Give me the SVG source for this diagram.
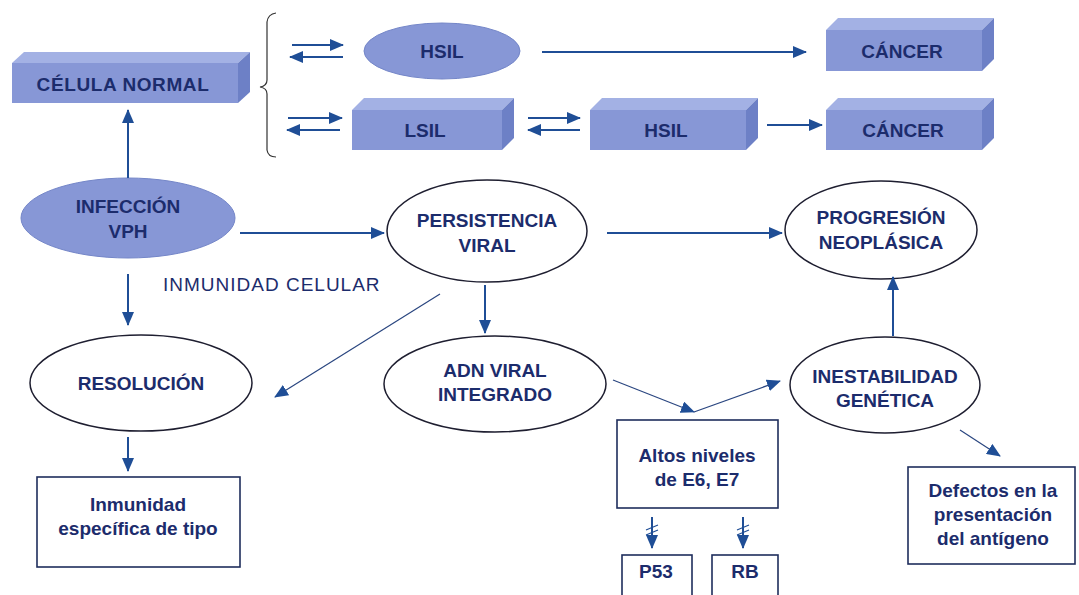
<svg xmlns="http://www.w3.org/2000/svg" width="1079" height="595" viewBox="0 0 1079 595">
<defs>
<style>
.t{font-family:"Liberation Sans",Arial,sans-serif;font-weight:bold;font-size:19px;fill:#1c2c6c;text-anchor:middle}
.front{fill:#8797d6}
.top{fill:#a3b1e4}
.side{fill:#6d80c6}
.ell{fill:#fff;stroke:#1e1e30;stroke-width:1.5}
.box{fill:#fff;stroke:#1f2d5c;stroke-width:1.6}
.ar{stroke:#1f4e96;stroke-width:2;fill:none}
.thin{stroke:#2a4680;stroke-width:1.2;fill:none}
</style>
<marker id="ah" markerUnits="userSpaceOnUse" markerWidth="14" markerHeight="12" refX="13" refY="6" orient="auto">
<path d="M0,0 L14,6 L0,12 Z" fill="#1f4e96"/>
</marker>
</defs>

<g id="celula-normal">
<polygon class="top" points="12,63 24,52 250,52 238,63"/>
<polygon class="side" points="238,63 250,52 250,92 238,103"/>
<rect class="front" x="12" y="63" width="226" height="40"/>
<text class="t" x="123" y="91" font-size="20" letter-spacing="0.6">CÉLULA NORMAL</text>
</g>

<g id="brace">
<path d="M276,13 Q268,14 267,22 L267,80 Q267,86 260,87 Q267,88 267,94 L267,150 Q268,157 276,157" fill="none" stroke="#333" stroke-width="1.2"/>
</g>

<g id="hsil-ellipse">
<ellipse cx="442" cy="51" rx="78" ry="28" fill="#8797d6" stroke="#7486c8" stroke-width="1"/>
<text class="t" x="442" y="58">HSIL</text>
</g>

<g id="cancer-top">
<polygon class="top" points="826,30 838,18 994,18 982,30"/>
<polygon class="side" points="982,30 994,18 994,59 982,71"/>
<rect class="front" x="826" y="30" width="156" height="41"/>
<text class="t" x="902" y="58">CÁNCER</text>
</g>

<g id="lsil">
<polygon class="top" points="352,110 364,98 514,98 502,110"/>
<polygon class="side" points="502,110 514,98 514,138 502,150"/>
<rect class="front" x="352" y="110" width="150" height="40"/>
<text class="t" x="425" y="137">LSIL</text>
</g>

<g id="hsil-box">
<polygon class="top" points="590,110 602,98 758,98 746,110"/>
<polygon class="side" points="746,110 758,98 758,138 746,150"/>
<rect class="front" x="590" y="110" width="156" height="40"/>
<text class="t" x="666" y="137">HSIL</text>
</g>

<g id="cancer-bottom">
<polygon class="top" points="826,110 838,98 994,98 982,110"/>
<polygon class="side" points="982,110 994,98 994,138 982,150"/>
<rect class="front" x="826" y="110" width="156" height="40"/>
<text class="t" x="903" y="137">CÁNCER</text>
</g>

<g id="infeccion-vph">
<ellipse cx="128" cy="218" rx="107" ry="40" fill="#8797d6" stroke="#7486c8" stroke-width="1"/>
<text class="t" x="128" y="213">INFECCIÓN</text>
<text class="t" x="128" y="238">VPH</text>
</g>

<g id="persistencia-viral">
<ellipse class="ell" cx="487" cy="231" rx="100" ry="51"/>
<text class="t" x="487" y="227">PERSISTENCIA</text>
<text class="t" x="487" y="252">VIRAL</text>
</g>

<g id="progresion-neoplasica">
<ellipse class="ell" cx="881" cy="230" rx="96" ry="49"/>
<text class="t" x="881" y="224">PROGRESIÓN</text>
<text class="t" x="881" y="249">NEOPLÁSICA</text>
</g>

<g id="inmunidad-celular">
<text x="163" y="291" font-family="Liberation Sans, Arial, sans-serif" font-size="19" letter-spacing="1" fill="#1c2c6c">INMUNIDAD CELULAR</text>
</g>

<g id="resolucion">
<ellipse class="ell" cx="141" cy="383" rx="111" ry="48"/>
<text class="t" x="141" y="390">RESOLUCIÓN</text>
</g>

<g id="adn-viral-integrado">
<ellipse class="ell" cx="495" cy="384" rx="111" ry="48"/>
<text class="t" x="495" y="377">ADN VIRAL</text>
<text class="t" x="495" y="401">INTEGRADO</text>
</g>

<g id="inestabilidad-genetica">
<ellipse class="ell" cx="885" cy="385" rx="95" ry="48"/>
<text class="t" x="885" y="383">INESTABILIDAD</text>
<text class="t" x="885" y="407">GENÉTICA</text>
</g>

<g id="inmunidad-especifica">
<rect class="box" x="37" y="477" width="203" height="90"/>
<text class="t" x="138" y="511">Inmunidad</text>
<text class="t" x="138" y="535">específica de tipo</text>
</g>

<g id="altos-niveles">
<rect class="box" x="617" y="420" width="161" height="88"/>
<text class="t" x="697" y="462">Altos niveles</text>
<text class="t" x="697" y="486">de E6, E7</text>
</g>

<g id="defectos">
<rect class="box" x="908" y="467" width="167" height="97"/>
<text class="t" x="993" y="497">Defectos en la</text>
<text class="t" x="993" y="521">presentación</text>
<text class="t" x="993" y="545">del antígeno</text>
</g>

<g id="p53">
<rect class="box" x="622" y="555" width="70" height="50"/>
<text class="t" x="656" y="578">P53</text>
</g>

<g id="rb">
<rect class="box" x="712" y="555" width="66" height="50"/>
<text class="t" x="745" y="578">RB</text>
</g>

<g id="connectors">
<line class="ar" x1="292" y1="45" x2="343" y2="45" marker-end="url(#ah)"/>
<line class="ar" x1="343" y1="57" x2="290" y2="57" marker-end="url(#ah)"/>
<line class="ar" x1="288" y1="118" x2="342" y2="118" marker-end="url(#ah)"/>
<line class="ar" x1="340" y1="130" x2="287" y2="130" marker-end="url(#ah)"/>
<line class="ar" x1="542" y1="52" x2="806" y2="52" marker-end="url(#ah)"/>
<line class="ar" x1="528" y1="118" x2="580" y2="118" marker-end="url(#ah)"/>
<line class="ar" x1="580" y1="130" x2="528" y2="130" marker-end="url(#ah)"/>
<line class="ar" x1="767" y1="125" x2="822" y2="125" marker-end="url(#ah)"/>
<line class="ar" x1="128" y1="178" x2="128" y2="110" marker-end="url(#ah)"/>
<line class="ar" x1="240" y1="233" x2="384" y2="233" marker-end="url(#ah)"/>
<line class="ar" x1="607" y1="233" x2="782" y2="233" marker-end="url(#ah)"/>
<line class="ar" x1="128" y1="274" x2="128" y2="325" marker-end="url(#ah)"/>
<line class="ar" x1="485" y1="285" x2="485" y2="333" marker-end="url(#ah)"/>
<line class="thin" x1="440" y1="294" x2="275" y2="397" marker-end="url(#ah)"/>
<line class="ar" x1="893" y1="336" x2="893" y2="277" marker-end="url(#ah)"/>
<line class="thin" x1="613" y1="380" x2="694" y2="412" marker-end="url(#ah)"/>
<line class="thin" x1="694" y1="412" x2="780" y2="381" marker-end="url(#ah)"/>
<line class="thin" x1="960" y1="430" x2="1000" y2="456" marker-end="url(#ah)"/>
<line class="ar" x1="128" y1="437" x2="128" y2="471" marker-end="url(#ah)"/>
<line class="ar" x1="652" y1="517" x2="652" y2="548" marker-end="url(#ah)"/>
<line class="ar" x1="743" y1="517" x2="743" y2="548" marker-end="url(#ah)"/>
<path d="M646,530 L658,525 M646,535 L658,530 M737,530 L749,525 M737,535 L749,530" stroke="#1f4e96" stroke-width="1.2" fill="none"/>
</g>
</svg>
